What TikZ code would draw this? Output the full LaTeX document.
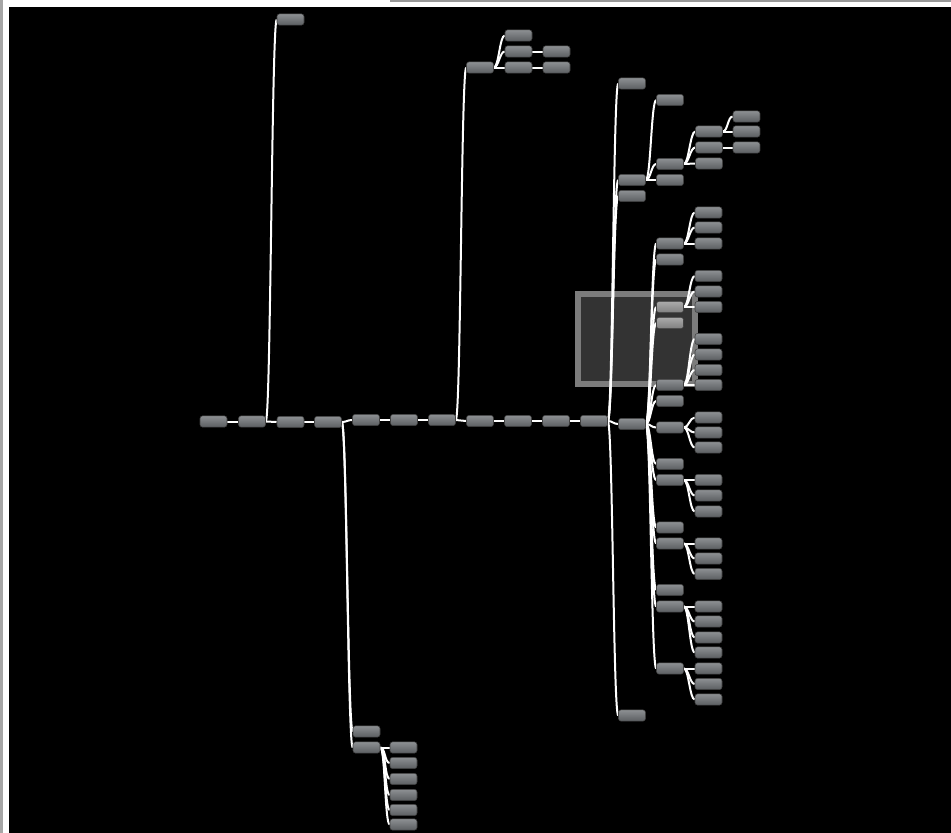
\documentclass[tikz,border=0pt]{standalone}
\usepackage{tikz}
\usepackage{xcolor}

\definecolor{nodetop}{HTML}{8D9093}
\definecolor{nodebot}{HTML}{5B5E61}
\definecolor{boxfill}{HTML}{333333}
\definecolor{boxedge}{HTML}{7C7C7C}

\pgfdeclarelayer{back}
\pgfsetlayers{back,main}

\tikzset{
	block/.style={draw=black!75, line width=0.4pt, rounded corners=2pt, top color=nodetop, bottom color=nodebot, minimum width=20.25pt, minimum height=8.5pt, inner sep=0pt},
	plain/.style={},
	picked/.style={top color=black!33, bottom color=black!50},
	wire/.style={white, line width=1.5pt}
}

\begin{document}
\begin{tikzpicture}[x=0.75pt, y=-0.75pt]
		% Define the frame
		\begin{pgfonlayer}{back}
		\fill[white] (0,0) rectangle (951,833);
		\fill[black!35] (0,0) rectangle (3,833);
		\fill[black!40] (390,0) rectangle (951,2);
		\fill[black] (9,7) rectangle (951,833);
		% Selection box
		\draw[boxedge, fill=boxfill, line width=4.5pt] (578,294) rectangle (695,384);
		\end{pgfonlayer}
		\useasboundingbox (0,0) rectangle (951,833);

		% Main row
		\foreach \i/\x/\y in {1/213.5/421.5, 2/252/421.5, 3/290.5/422, 4/328/422, 5/366/420, 6/404/420, 7/442/420, 8/480/421, 9/518/421, 10/556/421, 11/594/421, 12/632/424}
			\node[block] (n\i) at (\x,\y) {};

		% Upper branches
		\node[block] (u1) at (290.5,19.5) {};
		\node[block] (t1) at (480,67.5) {};
		\node[block] (t2) at (518.5,35.5) {};
		\node[block] (t3) at (518.5,51.5) {};
		\node[block] (t4) at (518.5,67.5) {};
		\node[block] (t5) at (556.5,51.5) {};
		\node[block] (t6) at (556.5,67.5) {};

		% Lower branch
		\node[block] (v1) at (366.5,731.5) {};
		\node[block] (v2) at (366.5,747.5) {};
		\foreach \i/\y in {1/747.5, 2/763, 3/779, 4/795, 5/810, 6/824.5}
			\node[block] (w\i) at (403.5,\y) {};

		% Right tree
		\foreach \i/\y in {1/83.5, 2/180, 3/196, 4/715.5}
			\node[block] (a\i) at (632,\y) {};
		\foreach \i/\y in {1/100, 2/164, 3/180}
			\node[block] (b\i) at (670,\y) {};
		\foreach \i/\y in {1/131.5, 2/147.5, 3/163.5}
			\node[block] (c\i) at (709,\y) {};
		\foreach \i/\y in {1/116.5, 2/131.5, 3/147.5}
			\node[block] (d\i) at (746.5,\y) {};
		\foreach \i/\y/\s in {1/243.5/plain, 2/259.5/plain, 3/307/picked, 4/323/picked, 5/385/plain, 6/401/plain, 7/427.5/plain, 8/464/plain, 9/480/plain, 10/527.5/plain, 11/543.5/plain, 12/590/plain, 13/606.5/plain, 14/668.5/plain}
			\node[block,\s] (e\i) at (670,\y) {};
		\foreach \n/\y in {e1a/212.5, e1b/227.5, e1c/243.5, e3a/276, e3b/291.5, e3c/307, e5a/339, e5b/354.5, e5c/370, e5d/385, e7a/417.5, e7b/432.5, e7c/447.5, e9a/480, e9b/495.5, e9c/511.5, e11a/543.5, e11b/558.5, e11c/574, e13a/606.5, e13b/621.5, e13c/637.5, e13d/652.5, e14a/668.5, e14b/684, e14c/699.5}
			\node[block] (\n) at (708.5,\y) {};

		% Connections
		\begin{pgfonlayer}{back}
		\foreach \p/\c in {n1/n2, n2/u1, n2/n3, n3/n4, n4/n5, n4/v1, n4/v2, n5/n6, n6/n7, n7/t1, n7/n8, n8/n9, n9/n10, n10/n11, n11/a1, n11/a2, n11/a3, n11/n12, n11/a4, t1/t2, t1/t3, t1/t4, t3/t5, t4/t6, v2/w1, v2/w2, v2/w3, v2/w4, v2/w5, v2/w6, a2/b1, a2/b2, a2/b3, b2/c1, b2/c2, b2/c3, c1/d1, c1/d2, c2/d3, n12/e1, n12/e2, n12/e3, n12/e4, n12/e5, n12/e6, n12/e7, n12/e8, n12/e9, n12/e10, n12/e11, n12/e12, n12/e13, n12/e14, e1/e1a, e1/e1b, e1/e1c, e3/e3a, e3/e3b, e3/e3c, e5/e5a, e5/e5b, e5/e5c, e5/e5d, e7/e7a, e7/e7b, e7/e7c, e9/e9a, e9/e9b, e9/e9c, e11/e11a, e11/e11b, e11/e11c, e13/e13a, e13/e13b, e13/e13c, e13/e13d, e14/e14a, e14/e14b, e14/e14c}
			\draw[wire] (\p.east) .. controls +(5,0) and +(-5,0) .. (\c.west);
		\end{pgfonlayer}
	\end{tikzpicture}
\end{document}
